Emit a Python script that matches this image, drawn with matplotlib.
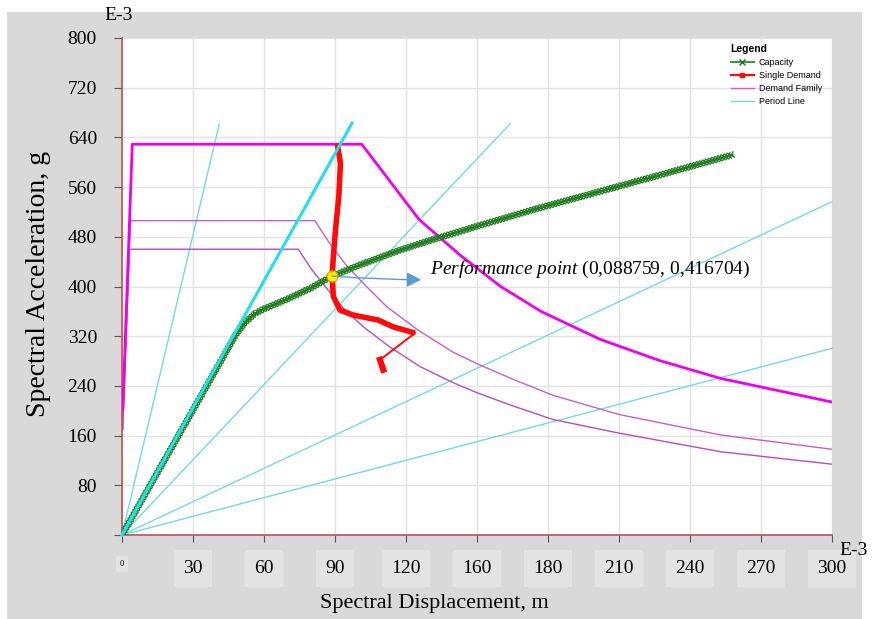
import numpy as np
import matplotlib.pyplot as plt
import matplotlib.patheffects as pe
from matplotlib.lines import Line2D
from matplotlib.patches import Rectangle

# Data (units: E-3 m and E-3 g)
cap_sd = [0, 48, 52, 56, 60, 70, 80, 88.759, 100, 117, 130, 150, 175, 200, 225, 258]
cap_sa = [0, 322, 342, 356, 364, 380, 398, 416.704, 434, 458, 474, 497, 525, 551, 577, 612]

red_sd = [91.0, 92.3, 91.6, 90.2, 89.3, 88.759, 89.3, 92.1, 97.7, 108.3, 114.6, 123.8, 109.0, 110.4]
red_sa = [630, 598, 545, 491, 448, 416.704, 384, 362, 354, 346, 335, 325, 282, 266]

dem1_sd = [0.3, 4.35, 101.3, 125.5, 143, 160, 177, 202, 227, 253, 300]
dem1_sa = [201, 629, 629, 508, 450, 400, 360, 315, 281, 252, 214]

dem2_sd = [0.3, 3.6, 81.5, 88, 95, 102, 112, 125, 140, 151, 165, 182, 210, 253, 300]
dem2_sa = [170, 506, 506, 468, 433, 405, 367, 330, 294, 274, 251, 225, 194, 161, 138]

dem3_sd = [0.3, 3.1, 74.5, 80, 86.5, 94, 102, 113, 126, 140, 150, 165, 182, 210, 253, 300]
dem3_sa = [170, 460, 460, 428, 397, 363, 335, 303, 271, 245, 229, 208, 186, 164, 134, 114]

per_end_sd = [41.1, 97.2, 164, 300, 300]
per_end_sa = [661.5, 663, 662, 536.5, 300.5]
per_thick = [False, True, False, False, False]

pp_sd, pp_sa = 88.759, 416.704

x_ticks = [0, 30, 60, 90, 120, 150, 180, 210, 240, 270, 300]
x_labels = ['0', '30', '60', '90', '120', '160', '180', '210', '240', '270', '300']
y_ticks = [0, 80, 160, 240, 320, 400, 480, 560, 640, 720, 800]
y_labels = ['', '80', '160', '240', '320', '400', '480', '560', '640', '720', '800']

plt.rcParams['font.family'] = 'Liberation Serif'
plt.rcParams['mathtext.fontset'] = 'custom'
plt.rcParams['mathtext.it'] = 'Liberation Serif:italic'
plt.rcParams['mathtext.rm'] = 'Liberation Serif'

W, H = 875, 619
fig = plt.figure(figsize=(W / 100, H / 100), dpi=100)
fig.patch.set_facecolor('white')
fig.patches.append(Rectangle((7 / W, 0), (862 - 7) / W, 1 - 12 / H, transform=fig.transFigure,
                             facecolor='#d9d9d9', edgecolor='none', zorder=-10))
ax = fig.add_axes([122 / W, 1 - 535 / H, 710 / W, 497 / H])
ax.set_facecolor('white')

# period lines
for sd, sa, thick in zip(per_end_sd, per_end_sa, per_thick):
    if thick:
        ax.plot([0, sd], [0, sa], color='#22e0e6', lw=2.2, zorder=7, clip_on=False)
    else:
        ax.plot([0, sd], [0, sa], color='#74dcd8', lw=1.0, zorder=2, clip_on=False)

# demand family
ax.plot(dem2_sd, dem2_sa, color='#c460c8', lw=1.0, zorder=2)
ax.plot(dem3_sd, dem3_sa, color='#b84cc0', lw=1.0, zorder=2)
ax.plot(dem1_sd, dem1_sa, color='#f000f0', lw=2.0, zorder=4)

# capacity curve with dense x marks
dark = '#1d7a1d'
ticks = [pe.TickedStroke(spacing=2.3, angle=a, length=1.25, linewidth=0.9, foreground=dark)
         for a in (45, -135, 135, -45)]
ax.plot(cap_sd, cap_sa, color='#2ea02e', lw=1.6, zorder=5,
        path_effects=[pe.Normal()] + ticks)

# single demand
ax.plot(red_sd[:12], red_sa[:12], color='#ff0a0a', lw=4.0, zorder=6, solid_capstyle='butt')
ax.plot(red_sd[11:13], red_sa[11:13], color='#ff0a0a', lw=1.4, zorder=6)
ax.plot(red_sd[12:], red_sa[12:], color='#ff0a0a', lw=4.5, zorder=6)

# performance point
ax.plot([pp_sd], [pp_sa], 'o', ms=8, mfc='#ffee00', mec='#e0a000', mew=0.8, zorder=8)
ax.annotate(r'$\it{Performance\ point}$ (0,088759, 0,416704)', xy=(pp_sd, pp_sa),
            xytext=(130, 427), fontsize=14, va='center', zorder=9,
            arrowprops=dict(arrowstyle='<|-', color='#5b9bd5', lw=1.0, mutation_scale=22,
                            shrinkA=4, shrinkB=0, connectionstyle='arc3,rad=-0.05'))

ax.set_xlim(0, 300)
ax.set_ylim(0, 800)
ax.set_xticks(x_ticks)
ax.set_xticklabels(x_labels, fontsize=14)
ax.set_yticks(y_ticks)
ax.set_yticklabels(y_labels, fontsize=14)
for lab in ax.get_xticklabels():
    lab.set_bbox(dict(facecolor='#e3e3e3', edgecolor='none', pad=7))
ax.get_xticklabels()[0].set_fontsize(6)
ax.tick_params(axis='x', length=5, pad=13, color='#555555', direction='out')
ax.tick_params(axis='y', length=6, pad=12, color='#555555', direction='out')
ax.grid(True, color='#e2e2e2', lw=1.0, zorder=0)
ax.set_axisbelow(True)
for s in ['top', 'right']:
    ax.spines[s].set_visible(False)
for s in ['left', 'bottom']:
    ax.spines[s].set_color('#c0504d')
    ax.spines[s].set_linewidth(1.2)

ax.set_xlabel('Spectral Displacement, m', fontsize=16, va='center')
ax.xaxis.set_label_coords(0.44, -0.137)
ax.set_ylabel('Spectral Acceleration, g', fontsize=20, va='center')
ax.yaxis.set_label_coords(-0.117, 0.505)

ax.text(-0.005, 1.046, 'E-3', transform=ax.transAxes, ha='center', va='center', fontsize=14)
ax.text(1.03, -0.032, 'E-3', transform=ax.transAxes, ha='center', va='center', fontsize=14)

handles = [Line2D([], [], color='#2ea02e', lw=1.4, marker='x', ms=4, mec=dark),
           Line2D([], [], color='#ff0a0a', lw=1.6, marker='s', ms=3),
           Line2D([], [], color='#c460c8', lw=1.0),
           Line2D([], [], color='#74dcd8', lw=1.0)]
labels = ['Capacity', 'Single Demand', 'Demand Family', 'Period Line']
ax.legend(handles, labels, loc='upper left', bbox_to_anchor=(0.852, 0.995), frameon=False,
          title='Legend', prop={'family': 'Liberation Sans', 'size': 6.5},
          title_fontproperties={'family': 'Liberation Sans', 'weight': 'bold', 'size': 7.5},
          alignment='left', handlelength=2.6, labelspacing=0.45, borderaxespad=0,
          handletextpad=0.5)

fig.savefig('out.png', dpi=100, facecolor=fig.get_facecolor())
